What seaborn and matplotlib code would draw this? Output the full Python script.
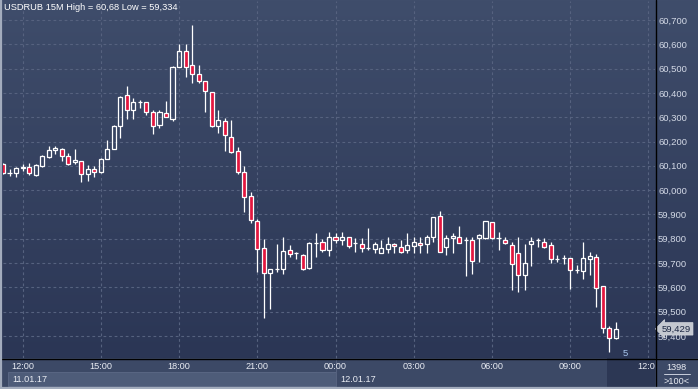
import numpy as np
import pandas as pd
import seaborn as sns
import matplotlib
matplotlib.use("Agg")
import matplotlib.pyplot as plt
from matplotlib.patches import Rectangle
from matplotlib.lines import Line2D
from matplotlib.colors import LinearSegmentedColormap
from matplotlib.transforms import blended_transform_factory

# ---------------- data (USDRUB, 15-minute candles from 11.01.17 11:15) ----------------
opens = [60.107, 60.070, 60.070, 60.093, 60.095, 60.062, 60.099, 60.136, 60.165, 60.169,
         60.140, 60.116, 60.120, 60.066, 60.087, 60.075, 60.128, 60.169, 60.264, 60.391,
         60.330, 60.363, 60.363, 60.321, 60.268, 60.317, 60.293, 60.507, 60.572, 60.515,
         60.478, 60.449, 60.404, 60.264, 60.284, 60.219, 60.161, 60.075, 59.976, 59.873,
         59.762, 59.659, 59.675, 59.675, 59.754, 59.741, 59.733, 59.679, 59.782, 59.786,
         59.754, 59.807, 59.795, 59.807, 59.782, 59.778, 59.762, 59.758, 59.741, 59.758,
         59.778, 59.766, 59.754, 59.770, 59.782, 59.778, 59.807, 59.893, 59.766, 59.803,
         59.807, 59.795, 59.795, 59.803, 59.803, 59.869, 59.803, 59.795, 59.774, 59.741,
         59.651, 59.778, 59.795, 59.786, 59.774, 59.717, 59.721, 59.721, 59.671, 59.667,
         59.717, 59.725, 59.605, 59.433, 59.391]
highs = [60.112, 60.087, 60.095, 60.107, 60.112, 60.107, 60.144, 60.181, 60.181, 60.173,
         60.153, 60.169, 60.120, 60.103, 60.099, 60.132, 60.206, 60.268, 60.387, 60.428,
         60.379, 60.371, 60.363, 60.330, 60.330, 60.367, 60.511, 60.601, 60.601, 60.680,
         60.515, 60.449, 60.404, 60.330, 60.297, 60.289, 60.177, 60.099, 59.992, 59.881,
         59.799, 59.675, 59.778, 59.807, 59.774, 59.745, 59.737, 59.786, 59.824, 59.799,
         59.828, 59.824, 59.828, 59.807, 59.803, 59.803, 59.844, 59.786, 59.795, 59.807,
         59.782, 59.795, 59.824, 59.807, 59.807, 59.815, 59.889, 59.914, 59.815, 59.824,
         59.852, 59.807, 59.807, 59.819, 59.873, 59.869, 59.828, 59.807, 59.786, 59.807,
         59.778, 59.807, 59.803, 59.803, 59.786, 59.733, 59.733, 59.721, 59.692, 59.786,
         59.745, 59.737, 59.605, 59.441, 59.457]
lows = [60.066, 60.058, 60.054, 60.079, 60.062, 60.058, 60.095, 60.132, 60.149, 60.120,
        60.103, 60.107, 60.033, 60.037, 60.054, 60.070, 60.128, 60.169, 60.214, 60.293,
        60.293, 60.338, 60.309, 60.231, 60.256, 60.301, 60.284, 60.507, 60.465, 60.441,
        60.441, 60.321, 60.260, 60.235, 60.161, 60.153, 60.066, 59.910, 59.865, 59.663,
        59.474, 59.511, 59.663, 59.655, 59.725, 59.717, 59.671, 59.675, 59.725, 59.745,
        59.729, 59.782, 59.774, 59.762, 59.745, 59.745, 59.754, 59.741, 59.741, 59.741,
        59.741, 59.741, 59.741, 59.741, 59.741, 59.741, 59.786, 59.745, 59.733, 59.741,
        59.782, 59.647, 59.655, 59.704, 59.799, 59.799, 59.754, 59.778, 59.589, 59.581,
        59.589, 59.688, 59.766, 59.762, 59.700, 59.704, 59.696, 59.593, 59.659, 59.634,
        59.651, 59.519, 59.412, 59.334, 59.387]
closes = [60.070, 60.070, 60.091, 60.095, 60.070, 60.103, 60.140, 60.165, 60.173, 60.140,
          60.107, 60.124, 60.066, 60.087, 60.075, 60.128, 60.169, 60.264, 60.383, 60.330,
          60.363, 60.363, 60.321, 60.264, 60.321, 60.301, 60.507, 60.572, 60.507, 60.478,
          60.449, 60.408, 60.264, 60.289, 60.227, 60.157, 60.075, 59.972, 59.877, 59.758,
          59.659, 59.675, 59.675, 59.750, 59.737, 59.741, 59.675, 59.782, 59.784, 59.754,
          59.807, 59.795, 59.807, 59.770, 59.782, 59.762, 59.762, 59.778, 59.762, 59.778,
          59.770, 59.745, 59.774, 59.786, 59.774, 59.807, 59.889, 59.745, 59.803, 59.811,
          59.782, 59.795, 59.708, 59.815, 59.873, 59.803, 59.803, 59.782, 59.696, 59.651,
          59.700, 59.791, 59.795, 59.766, 59.717, 59.717, 59.721, 59.671, 59.671, 59.721,
          59.729, 59.597, 59.433, 59.391, 59.429]
first_time = "2017-01-11 11:15"
time_labels = ["12:00", "15:00", "18:00", "21:00", "00:00", "03:00", "06:00", "09:00", "12:00"]
date_labels = ["11.01.17", "12.01.17"]
y_ticks = [59.4, 59.5, 59.6, 59.7, 59.8, 59.9, 60.0, 60.1, 60.2, 60.3, 60.4, 60.5, 60.6, 60.7]
title = "USDRUB 15M High = 60,68 Low = 59,334"
last_price = 59.429
corner_top, corner_bottom = "1398", ">100<"
countdown = "5"

df = pd.DataFrame({"open": opens, "high": highs, "low": lows, "close": closes})
df["time"] = pd.date_range(first_time, periods=len(df), freq="15min")
df["x"] = np.arange(len(df))
df["up"] = df["close"] >= df["open"]
df["btop"] = df[["open", "close"]].max(axis=1)
df["bbot"] = df[["open", "close"]].min(axis=1)

# ---------------- style ----------------
sns.set_theme(style="dark")
plt.rcParams["font.family"] = ["Liberation Sans", "DejaVu Sans"]

W, H = 698, 389
BAND = "#3c4966"
TOP_C, BOT_C = "#3f4d6b", "#2b3655"
RED = "#e3173f"
GRID = "#56627f"

fig = plt.figure(figsize=(W / 100, H / 100), dpi=100)
fig.patch.set_facecolor(BAND)


def fx(px):
    return px / W


def fy(py):
    return 1 - py / H


# gradient background for the upper area
bg = fig.add_axes([0, fy(358), 1, 358 / H], zorder=0)
cmap = LinearSegmentedColormap.from_list("g", [TOP_C, BOT_C])
bg.imshow(np.linspace(0, 1, 256).reshape(-1, 1), aspect="auto", cmap=cmap,
          extent=[0, 1, 0, 1])
bg.set_axis_off()

# main axes
ax = fig.add_axes([fx(3), fy(358), 652 / W, 357 / H], zorder=2)
ax.patch.set_alpha(0)
ax.set_xlim(0, 100)
ax.set_ylim(60.7 - 338 / 243, 60.7 + 19 / 243)

# tick positions from times
t0 = df["time"].iloc[0]
tick_times = pd.date_range("2017-01-11 12:00", periods=len(time_labels), freq="3h")
tick_pos = [(t - t0) / pd.Timedelta("15min") for t in tick_times]
ax.set_xticks(tick_pos)
ax.set_xticklabels(time_labels)
ax.set_yticks(y_ticks)
ax.set_yticklabels([f"{v:.3f}".replace(".", ",") for v in y_ticks])
ax.yaxis.tick_right()
ax.tick_params(axis="y", length=0, pad=2.2, labelsize=6.8, labelcolor="#d3d9e6")
ax.tick_params(axis="x", length=0, pad=2.6, labelsize=6.6, labelcolor="#e9ecf3")
ax.grid(True, color=GRID, lw=0.8, ls=(0, (2.5, 2.5)))
for s in ax.spines.values():
    s.set_visible(False)

# wicks
lw = 0.9
ax.vlines(df["x"], df["btop"], df["high"], color="white", lw=lw, zorder=3)
ax.vlines(df["x"], df["low"], df["bbot"], color="white", lw=lw, zorder=3)
# bodies
up = df[df["up"]]
dn = df[~df["up"]]
ax.bar(up["x"], up["btop"] - up["bbot"], bottom=up["bbot"], width=0.62,
       facecolor="none", edgecolor="white", lw=lw, zorder=4)
ax.bar(dn["x"], dn["btop"] - dn["bbot"], bottom=dn["bbot"], width=0.62,
       facecolor=RED, edgecolor="white", lw=lw, zorder=4)

# title
fig.text(fx(4), fy(8), title, ha="left", va="center", fontsize=6.7, color="white", zorder=5)

# price tag
btr = blended_transform_factory(ax.transAxes, ax.transData)
ax.text(1 + 7 / 652, last_price, f"{last_price:.3f}".replace(".", ","),
        transform=btr, ha="left", va="center", fontsize=6.8, color="#1b2642", zorder=10,
        clip_on=False,
        bbox=dict(boxstyle="larrow,pad=0.18", fc="#c4c8d0", ec="#d7dae0", lw=0.5))

# countdown
fig.text(fx(625), fy(354), countdown, ha="center", va="center", fontsize=6.8,
         color="#a9c6ee", zorder=5)

# bottom band decorations
fig.add_artist(Rectangle((fx(8), fy(386)), fx(336) - fx(8), 14 / H, transform=fig.transFigure,
                         fc="#4e5c79", ec="#5c6986", lw=0.6, zorder=1))
fig.add_artist(Rectangle((fx(607), 0), fx(655) - fx(607), 31 / H, transform=fig.transFigure,
                         fc="#2c3754", ec="none", zorder=1))
fig.add_artist(Line2D([fx(336), fx(336)], [fy(386), fy(358)], transform=fig.transFigure,
                      color="#56627f", lw=0.7, zorder=1))
date_x = [fx(12), fx(340)]
for dx, lab in zip(date_x, date_labels):
    fig.text(dx, fy(379), lab, ha="left", va="center", fontsize=6.6, color="#e9ecf3", zorder=3)

# corner cell
cor = fig.add_axes([fx(655), 0, 43 / W, 31 / H], zorder=10)
cor.set_facecolor(BAND)
cor.set_xticks([]); cor.set_yticks([])
for s in cor.spines.values():
    s.set_visible(False)
cor.text(0.5, 0.68, corner_top, ha="center", va="center", fontsize=6.6, color="#e9ecf3",
         transform=cor.transAxes)
cor.plot([0.2, 0.82], [0.47, 0.47], color="#c9cfdc", lw=0.7, transform=cor.transAxes)
cor.text(0.5, 0.25, corner_bottom, ha="center", va="center", fontsize=6.6, color="#e9ecf3",
         transform=cor.transAxes)

# frame lines
fig.add_artist(Line2D([fx(655.5), fx(655.5)], [0, 1], transform=fig.transFigure,
                      color="black", lw=1.0, zorder=20))
fig.add_artist(Line2D([0, 1], [fy(358.5), fy(358.5)], transform=fig.transFigure,
                      color="black", lw=1.0, zorder=20))
fig.add_artist(Line2D([fx(1), fx(1)], [0, 1], transform=fig.transFigure,
                      color="#a3acbd", lw=1.6, zorder=20))
fig.add_artist(Line2D([0, 1], [fy(388), fy(388)], transform=fig.transFigure,
                      color="#a3acbd", lw=1.6, zorder=20))

fig.savefig("out.png", dpi=100, facecolor=fig.get_facecolor())
